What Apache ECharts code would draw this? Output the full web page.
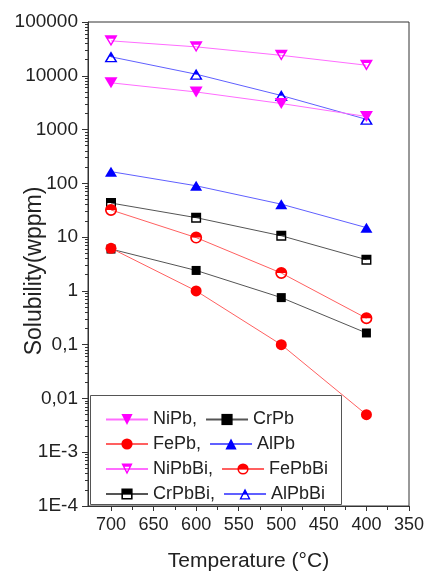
<!DOCTYPE html>
<html>
<head>
<meta charset="utf-8">
<script src="https://cdn.jsdelivr.net/npm/echarts@6/dist/echarts.min.js"></script>
<style>
  html, body { margin: 0; padding: 0; background: #fff; }
  #chart { width: 427px; height: 572px; }
</style>
</head>
<body>
<div id="chart"></div>
<script>
// ---- data ----
const temperatures = [700, 600, 500, 400];
const NiPb   = [7400, 5000, 3050, 1750];
const CrPb   = [6.0, 2.4, 0.75, 0.165];
const FePb   = [6.2, 1.0, 0.1, 0.005];
const AlPb   = [165, 90, 41, 15];
const NiPbBi = [44600, 34500, 24000, 15700];
const FePbBi = [32, 9.8, 2.15, 0.31];
const CrPbBi = [43, 23, 10.6, 3.8];
const AlPbBi = [22500, 10700, 4300, 1550];

const xTickValues = [700, 650, 600, 550, 500, 450, 400, 350];
const xMinorTickValues = [675, 625, 575, 525, 475, 425, 375];
const yTickValues = [1e-4, 1e-3, 1e-2, 1e-1, 1, 10, 100, 1000, 10000, 100000];
const yTickLabels = ['1E-4', '1E-3', '0,01', '0,1', '1', '10', '100', '1000', '10000', '100000'];
const legendRows = [
  ['NiPb', 'CrPb'],
  ['FePb', 'AlPb'],
  ['NiPbBi', 'FePbBi'],
  ['CrPbBi', 'AlPbBi']
];

// minor log ticks 2..9 per decade
const yMinorTickValues = [];
for (let e = -4; e < 5; e++) {
  for (let m = 2; m <= 9; m++) yMinorTickValues.push(m * Math.pow(10, e));
}

// ---- symbols ----
const SYM = {
  downFilled: 'path://M0,0 L100,0 L50,100 Z',
  upFilled: 'triangle',
  circleFilled: 'circle',
  squareFilled: 'rect',
  downHalf: 'path://M0,0 L100,0 L50,100 Z M19.4,12 L50,73.2 L80.6,12 Z M0,0 L100,0 L85,30 L15,30 Z',
  upHalf: 'path://M50,0 L100,100 L0,100 Z M50,26.8 L19.4,88 L80.6,88 Z M50,0 L75,50 L25,50 Z',
  circleHalf: 'path://M0,50 A50,50 0 1,1 100,50 A50,50 0 1,1 0,50 Z M14,50 A36,36 0 1,0 86,50 A36,36 0 1,0 14,50 Z M0,50 A50,50 0 0,1 100,50 Z',
  squareHalf: 'path://M0,0 L100,0 L100,100 L0,100 Z M14,14 L14,86 L86,86 L86,14 Z M0,0 L100,0 L100,50 L0,50 Z'
};

const COL = {
  Ni: { mark: '#ff00ff', line: '#ff6cff' },
  Fe: { mark: '#ff0000', line: '#ff6060' },
  Cr: { mark: '#000000', line: '#555555' },
  Al: { mark: '#0000ff', line: '#6060ff' }
};

function mk(name, values, col, symbol, size) {
  return {
    name: name,
    type: 'line',
    xAxisIndex: 0,
    yAxisIndex: 0,
    data: temperatures.map((t, i) => [t, values[i]]),
    symbol: symbol,
    symbolSize: size,
    showAllSymbol: true,
    lineStyle: { color: col.line, width: 1 },
    itemStyle: { color: col.mark, borderWidth: 0 },
    emphasis: { disabled: true },
    z: 3
  };
}

const series = [
  mk('CrPbBi', CrPbBi, COL.Cr, SYM.squareHalf, 10),
  mk('FePbBi', FePbBi, COL.Fe, SYM.circleHalf, 12),
  mk('AlPbBi', AlPbBi, COL.Al, SYM.upHalf, [13, 11]),
  mk('NiPbBi', NiPbBi, COL.Ni, SYM.downHalf, [13, 11]),
  mk('CrPb', CrPb, COL.Cr, SYM.squareFilled, 9),
  mk('FePb', FePb, COL.Fe, SYM.circleFilled, 11),
  mk('AlPb', AlPb, COL.Al, SYM.upFilled, [12, 10]),
  mk('NiPb', NiPb, COL.Ni, SYM.downFilled, [13, 11])
];

const FONT = 'Liberation Sans, Arial, sans-serif';
const rowTops = [410, 434.5, 459.5, 484.5];
const legends = legendRows.map(function (row, r) {
  return {
    orient: 'horizontal',
    left: 105,
    top: rowTops[r],
    padding: 0,
    itemWidth: 42,
    itemHeight: 14,
    itemGap: 8,
    selectedMode: false,
    data: row,
    formatter: function (n) { return n === row[0] ? n + ',' : n; },
    textStyle: { fontFamily: FONT, fontSize: 18, color: '#222', lineHeight: 19 },
    z: 6
  };
});

const option = {
  animation: false,
  backgroundColor: '#fff',
  grid: {
    left: 88, right: 18, top: 22, bottom: 66,
    containLabel: false,
    outerBoundsMode: 'none',
    show: true, borderColor: '#333', borderWidth: 1, backgroundColor: 'transparent'
  },
  xAxis: [
    {
      type: 'value', position: 'bottom', inverse: true,
      min: 350, max: 727,
      axisLine: { show: true, lineStyle: { color: '#333', width: 1 } },
      axisTick: { show: true, inside: false, length: 5, customValues: xTickValues, lineStyle: { color: '#333' } },
      axisLabel: { show: true, customValues: xTickValues, margin: 10, fontFamily: FONT, fontSize: 18, color: '#222' },
      splitLine: { show: false },
      name: 'Temperature (°C)', nameLocation: 'middle', nameGap: 45, nameMoveOverlap: false,
      nameTextStyle: { fontFamily: FONT, fontSize: 21, color: '#222' }
    },
    {
      type: 'value', position: 'bottom', inverse: true,
      min: 350, max: 727,
      axisLine: { show: false },
      axisTick: { show: true, inside: false, length: 4, customValues: xMinorTickValues, lineStyle: { color: '#333' } },
      axisLabel: { show: false },
      splitLine: { show: false }
    }
  ],
  yAxis: [
    {
      type: 'log', logBase: 10, position: 'left',
      min: 1e-4, max: 1e5,
      axisLine: { show: true, lineStyle: { color: '#333', width: 1 } },
      axisTick: { show: true, inside: false, length: 6, customValues: yTickValues, lineStyle: { color: '#333' } },
      axisLabel: {
        show: true, customValues: yTickValues, margin: 10,
        fontFamily: FONT, fontSize: 19, color: '#222',
        formatter: function (v) {
          const idx = Math.round(Math.log10(v)) + 4;
          return yTickLabels[idx];
        }
      },
      splitLine: { show: false },
      name: 'Solubility(wppm)', nameLocation: 'middle', nameGap: 42, nameMoveOverlap: false,
      nameTextStyle: { fontFamily: FONT, fontSize: 23, color: '#222', padding: [0, 14, 0, 0] }
    },
    {
      type: 'log', logBase: 10, position: 'left',
      min: 1e-4, max: 1e5,
      axisLine: { show: false },
      axisTick: { show: true, inside: false, length: 3, customValues: yMinorTickValues, lineStyle: { color: '#333' } },
      axisLabel: { show: false },
      splitLine: { show: false }
    }
  ],
  legend: legends,
  graphic: [
    {
      type: 'rect', left: 90, top: 395, z: 1,
      shape: { width: 251, height: 109 },
      style: { fill: '#fff', stroke: '#555', lineWidth: 1 }
    }
  ],
  series: series
};

const chart = echarts.init(document.getElementById('chart'), null, { renderer: 'canvas' });
chart.setOption(option);
</script>
</body>
</html>
